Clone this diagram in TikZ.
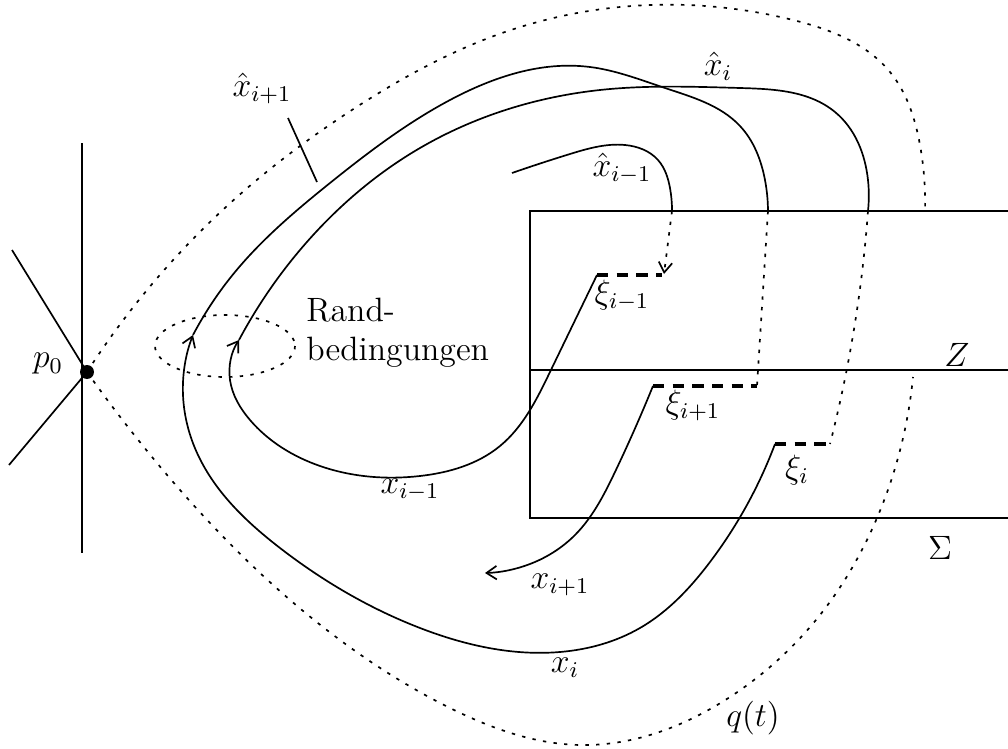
\documentclass[tikz,border=0pt]{standalone}
\usepackage{tikz}
\usetikzlibrary{arrows.meta,hobby}

\begin{document}
\begin{tikzpicture}[
    x=0.0125cm, y=-0.0125cm,
    use Hobby shortcut,
    orbit/.style={line width=0.6pt},
    hidden/.style={line width=0.6pt, dash pattern=on 1.2pt off 2.6pt},
    xiseg/.style={line width=1.1pt, dash pattern=on 4pt off 3pt},
    barb/.style={-{Straight Barb[length=3.6pt, width=4.8pt]}},
    lbl/.style={font=\large, inner sep=1pt}
  ]
  \useasboundingbox (0,0) rectangle (1008,749);

  \coordinate (p0) at (87,372);
  \coordinate (xim1w) at (597,275);
  \coordinate (xim1e) at (662,275);
  \coordinate (xip1w) at (653,386);
  \coordinate (xip1e) at (757,386);
  \coordinate (xiw) at (775,444);
  \coordinate (xie) at (830,444);
  \coordinate (arrA) at (193,335);
  \coordinate (arrB) at (239,340);
  \coordinate (hitA) at (768,211);
  \coordinate (hitB) at (868,211);
  \coordinate (hitC) at (672,211);

  % Sigma and Z
  \draw[orbit] (1008,211) -- (530,211) -- (530,518) -- (1008,518);
  \draw[orbit] (530,370) -- (1008,370);
  \node[lbl] (zlab) at (957,355) {$Z$};
  \node[lbl] (siglab) at (940,548) {$\Sigma$};

  % p0
  \draw[orbit] (82,143) -- (82,553);
  \draw[orbit] (12,250) -- (p0) -- (9,465);
  \fill (p0) circle (7);
  \node[lbl] (p0lab) at (48,364) {$p_0$};

  % q(t)
  \draw[hidden] (p0) .. (237,197) .. (355,108) .. (505,32) .. (650,5)
    .. (793,20) .. (890,72) .. (920,145) .. (925,211);
  \draw[hidden] (p0) .. (157,463) .. (340,640) .. (450,708) .. (580,745)
    .. (730,697) .. (820,615) .. (877,518) .. (913,377);
  \node[lbl] (qlab) at (753,718) {$q(t)$};

  % Randbedingungen
  \draw[hidden] (225,346) ellipse (70 and 31);
  \node[lbl, align=left, anchor=west] (rand) at (303,333) {Rand-\\bedingungen};

  % xi segments
  \draw[xiseg] (xim1w) -- (xim1e);
  \draw[xiseg] (xip1w) -- (xip1e);
  \draw[xiseg] (xiw) -- (xie);
  \node[lbl] (xim1lab) at (622,295) {$\xi_{i-1}$};
  \node[lbl] (xip1lab) at (693,405) {$\xi_{i+1}$};
  \node[lbl] (xilab) at (797,470) {$\xi_i$};

  % x_{i-1} and hat x_i
  \draw[orbit, barb] (xim1w) .. (550,372) .. (500,446) .. (420,476)
    .. (320,466) .. (250,420) .. (230,380) .. (arrB);
  \draw[orbit] (arrB) .. (300,250) .. (420,148) .. (600,90) .. (740,88)
    .. (835,112) .. (868,180) .. (hitB);
  \draw[hidden] (hitB) .. (857,310) .. (xie);
  \node[lbl] (xim1) at (410,490) {$x_{i-1}$};
  \node[lbl] (hxi) at (718,66) {$\hat{x}_i$};

  % x_i and hat x_{i+1}
  \draw[orbit, barb] (xiw) .. (710,562) .. (640,628) .. (560,652)
    .. (420,628) .. (280,548) .. (198,455) .. (183,395) .. (arrA);
  \draw[orbit] (arrA) .. (235,272) .. (330,183) .. (450,100) .. (590,67)
    .. (665,88) .. (740,126) .. (765,180) .. (hitA);
  \draw[hidden] (hitA) -- (xip1e);
  \node[lbl] (xi) at (565,668) {$x_i$};
  \node[lbl] (hxip1) at (262,88) {$\hat{x}_{i+1}$};
  \draw[orbit] (288,118) -- (317,182);

  % x_{i+1}
  \draw[orbit, barb] (xip1w) .. (615,472) .. (575,535) .. (530,564) .. (485,573);
  \node[lbl] (xip1) at (560,585) {$x_{i+1}$};

  % hat x_{i-1}
  \draw[orbit] (512,173) .. (570,154) .. (625,145) .. (658,160) .. (670,188)
    .. (hitC);
  \draw[hidden, barb] (hitC) -- (664,274);
  \node[lbl] (hxim1) at (622,168) {$\hat{x}_{i-1}$};
\end{tikzpicture}
\end{document}
